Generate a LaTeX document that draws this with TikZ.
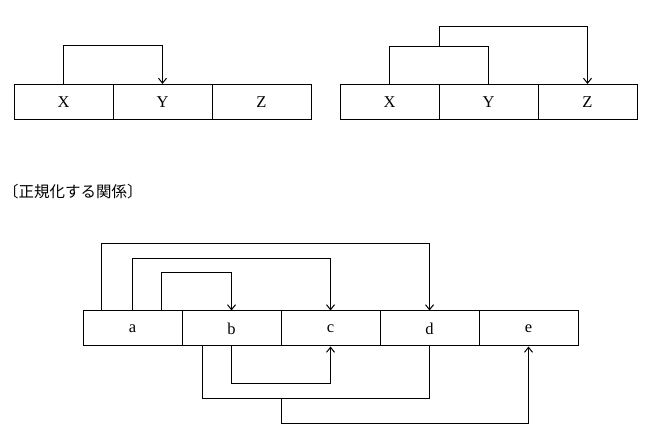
\documentclass[tikz,border=0pt]{standalone}
\usepackage{fontspec}
\setmainfont{Liberation Serif}
\newfontfamily\cjk{Noto Sans CJK JP}
\usetikzlibrary{arrows.meta,calc}
\begin{document}
\begin{tikzpicture}[x=1pt,y=1pt,
  cell/.style={draw,line width=1pt,minimum width=99pt,minimum height=35pt,inner sep=0pt,font=\fontsize{16.5}{18}\selectfont},
  link/.style={line width=1pt},
  arr/.style={link,-{Straight Barb[length=5pt,width=8pt]}}]
\useasboundingbox (0,0) rectangle (670,442);
% top-left
\node[cell] (X1) at (63.5,340) {X};
\node[cell] (Y1) at (162.5,340) {Y};
\node[cell] (Z1) at (261.5,340) {Z};
\draw[arr] (X1.north) -- ++(0,38) -| (Y1.north);
% top-right
\node[cell] (X2) at (389.5,340) {X};
\node[cell] (Y2) at (488.5,340) {Y};
\node[cell] (Z2) at (587.5,340) {Z};
\draw[link] (X2.north) -- ++(0,37) -| (Y2.north);
\coordinate (m2) at ($(X2.north east)+(0,37)$);
\draw[arr] (m2) -- ++(0,20) -| (Z2.north);
% label
\node[anchor=west,inner sep=0pt,font=\cjk\fontsize{15.5}{17}\selectfont] (lab) at (3,250) {〔正規化する関係〕};
% bottom
\node[cell] (a) at (132.5,113.5) {a};
\node[cell] (b) at (231.5,113.5) {b};
\node[cell] (c) at (330.5,113.5) {c};
\node[cell] (d) at (429.5,113.5) {d};
\node[cell] (e) at (528.5,113.5) {e};
\draw[arr] ([xshift=-31pt]a.north) -- ++(0,67) -| (d.north);
\draw[arr] (a.north) -- ++(0,52) -| (c.north);
\draw[arr] ([xshift=29pt]a.north) -- ++(0,38) -| (b.north);
\draw[arr] (b.south) -- ++(0,-37) -| (c.south);
\draw[link] ([xshift=-29pt]b.south) -- ++(0,-52) -| (d.south);
\coordinate (m3) at ($(b.south east)+(0,-52)$);
\draw[arr] (m3) -- ++(0,-25) -| (e.south);
\end{tikzpicture}
\end{document}
